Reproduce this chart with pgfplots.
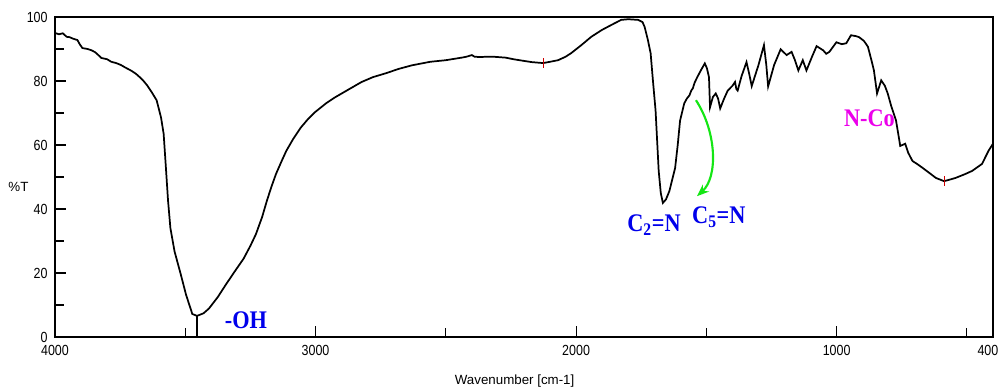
\documentclass[border=0pt]{standalone}
\usepackage{pgfplots}
\pgfplotsset{compat=1.18}
\usepackage{graphicx}
\usepackage{fontspec}
\setmainfont{Liberation Sans}
\newfontfamily\annot{Liberation Serif}
\usetikzlibrary{arrows.meta}
\definecolor{annblue}{RGB}{0,0,235}
\definecolor{annmag}{RGB}{235,0,235}
\definecolor{anngreen}{RGB}{20,230,20}

\begin{document}
\begin{tikzpicture}
\begin{axis}[
 scale only axis, width=703.5pt, height=240pt,
 x dir=reverse, xmin=400, xmax=4000, ymin=0, ymax=100,
 xtick={400,1000,2000,3000,4000},
 xticklabels={\hbox to 0pt{\hss\scalebox{0.85}[1]{400}\hskip-4pt},\scalebox{0.85}[1]{1000},\scalebox{0.85}[1]{2000},\scalebox{0.85}[1]{3000},\scalebox{0.85}[1]{4000}},
 minor xtick={500,1500,2500,3500},
 ytick={0,20,...,100}, minor ytick={10,30,...,90},
 yticklabel={\scalebox{0.85}[1]{\pgfmathprintnumber{\tick}}},
 tick pos=left, tick align=inside,
 major tick length=8pt, minor tick length=7pt,
 axis line style={line width=1.3pt},
 every tick/.style={black, line width=0.8pt},
 tick label style={font=\fontsize{11}{12}\selectfont},
 yticklabel style={xshift=-2pt},
 xticklabel style={yshift=-3pt},
 /pgf/number format/assume math mode=true,
 /pgf/number format/1000 sep={},
 xlabel={Wavenumber [cm-1]}, ylabel={\%T},
 every axis x label/.style={at={(axis description cs:0.49,0)}, anchor=center, yshift=-33pt, font=\fontsize{10}{11}\selectfont},
 every axis y label/.style={at={(axis description cs:-0.039,0.47)}, anchor=center, font=\fontsize{10}{11}\selectfont},
 extra x ticks={3455}, extra x tick labels={}, extra x tick style={major tick length=16pt},
 clip=false,
]
\addplot[black, line width=1.3pt] coordinates {
(4000,95.0) (3985,94.6) (3970,94.9) (3955,93.8) (3944,93.7) (3930,93.2) (3914,92.8) (3905,91.5)
(3895,90.3) (3875,90.0) (3860,89.6) (3846,89.0) (3835,88.2) (3822,87.2) (3800,86.8) (3784,86.0)
(3765,85.6) (3747,85.0) (3730,84.2) (3709,83.3) (3690,82.3) (3672,81.0) (3660,80.0) (3646,78.6)
(3628,76.4) (3610,74.0) (3593,68.6) (3583,63.5) (3576,55.0) (3566,42.5) (3557,34.0) (3541,26.7)
(3517,19.5) (3497,13.2) (3473,7.2) (3455,6.6) (3430,7.4) (3409,8.9) (3375,12.5) (3344,16.4)
(3310,20.5) (3276,24.5) (3250,28.5) (3229,32.1) (3205,37.5) (3187,42.5) (3170,46.8) (3152,50.9)
(3130,55.0) (3112,58.2) (3085,62.0) (3057,65.4) (3030,68.0) (3003,70.2) (2960,73.0) (2925,74.9)
(2870,77.5) (2823,79.7) (2780,81.2) (2731,82.4) (2680,83.8) (2630,84.9) (2560,86.0) (2500,86.5)
(2439,87.3) (2420,87.6) (2400,88.1) (2390,87.6) (2374,87.5) (2320,87.6) (2271,87.3) (2240,86.8)
(2210,86.4) (2170,85.9) (2127,85.6) (2100,86.0) (2069,86.5) (2040,87.6) (2019,88.7) (1980,91.2)
(1942,93.8) (1900,96.0) (1865,97.5) (1827,99.1) (1800,99.3) (1762,99.1) (1745,98.4) (1737,96.9)
(1725,93.0) (1714,88.7) (1705,80.0) (1695,70.8) (1683,51.9) (1675,45.0) (1667,41.9) (1655,43.0)
(1642,45.6) (1620,52.8) (1610,60.0) (1601,67.6) (1585,73.0) (1575,74.5) (1565,75.5) (1558,77.0)
(1552,77.7) (1545,79.5) (1535,81.2) (1520,83.5) (1506,85.5) (1498,84.0) (1490,81.2) (1486,71.8)
(1475,75.0) (1464,76.1) (1455,74.5) (1447,71.4) (1432,74.5) (1418,77.0) (1400,78.5) (1390,79.7)
(1385,77.5) (1380,77.0) (1365,81.5) (1346,85.9) (1335,82.0) (1326,78.4) (1300,85.0) (1279,91.2)
(1270,85.0) (1263,78.3) (1240,85.0) (1215,89.9) (1192,88.1) (1173,89.1) (1160,86.5) (1147,83.3)
(1130,86.5) (1116,83.3) (1095,87.5) (1077,90.9) (1052,89.6) (1040,88.5) (1028,89.1) (1001,92.1)
(980,91.5) (963,91.8) (945,94.3) (925,94.0) (914,93.7) (895,92.5) (880,90.7) (865,86.0)
(857,83.3) (845,76.1) (829,80.2) (815,78.5) (804,76.1) (790,72.0) (772,67.6) (756,59.7)
(737,60.4) (725,57.5) (709,55.0) (690,54.0) (671,52.9) (640,51.0) (619,49.7) (588,48.7)
(565,49.2) (544,49.7) (510,50.8) (480,51.9) (442,54.1) (417,58.2) (400,60.4)
};
\addplot[only marks, mark=|, mark size=3.5pt, red!80!black, mark options={line width=0.6pt}] coordinates {(2127,85.6) (588,48.7)};
\node[font=\annot\bfseries\fontsize{19}{20}\selectfont, text=annblue] at (axis cs:3267,5.3) {\scalebox{0.88}[1]{-OH}};
\node[font=\annot\bfseries\fontsize{19}{20}\selectfont, text=annblue] at (axis cs:1701,35) {\scalebox{0.88}[1]{C\textsubscript{2}=N}};
\node[font=\annot\bfseries\fontsize{19}{20}\selectfont, text=annblue] at (axis cs:1452,37.5) {\scalebox{0.88}[1]{C\textsubscript{5}=N}};
\node[font=\annot\bfseries\fontsize{19}{20}\selectfont, text=annmag] at (axis cs:874,68.4) {\scalebox{0.88}[1]{N-Co}};
\draw[anngreen, line width=1.6pt, -{Stealth[length=9pt,width=7pt]}] (axis cs:1540,74) .. controls (axis cs:1460,64) and (axis cs:1455,50) .. (axis cs:1536,44);
\end{axis}
\pgfresetboundingbox
\useasboundingbox (-41.25pt,-38.25pt) rectangle (708.75pt,252.75pt);
\end{tikzpicture}
\end{document}
